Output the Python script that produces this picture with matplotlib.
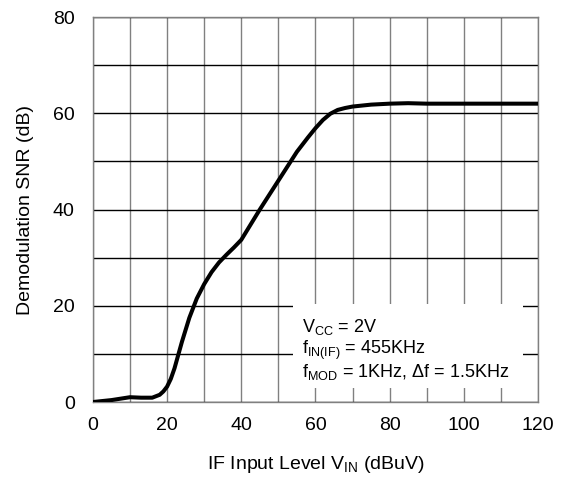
#!/usr/bin/env python3
import matplotlib
matplotlib.use('Agg')
import matplotlib.pyplot as plt
from matplotlib.patches import Rectangle

# SNR curve
vin = [0, 5, 10, 13, 16, 18, 19, 20, 21, 22, 24, 26, 28, 30, 32, 34, 36, 38,
       40, 45, 50, 55, 58, 60, 62, 64, 66, 68, 70, 75, 80, 85, 90, 100, 110, 120]
snr = [0, 0.4, 1.0, 0.9, 0.9, 1.5, 2.2, 3.2, 4.8, 7.0, 12.5, 17.5, 21.5, 24.5,
       27.0, 29.0, 30.6, 32.1, 33.7, 40.0, 46.0, 52.0, 55.0, 56.9, 58.6,
       59.9, 60.7, 61.1, 61.4, 61.8, 62.0, 62.1, 62.0, 62.0, 62.0, 62.0]

x_ticks = [0, 20, 40, 60, 80, 100, 120]
y_ticks = [0, 20, 40, 60, 80]

plt.rcParams['font.family'] = ['Liberation Sans', 'DejaVu Sans']
plt.rcParams['mathtext.fontset'] = 'custom'
plt.rcParams['mathtext.rm'] = 'Liberation Sans'

fig = plt.figure(figsize=(5.63, 4.87), dpi=100)
ax = fig.add_axes([0.165, 0.1745, 0.7906, 0.7905])

ax.set_xlim(0, 120)
ax.set_ylim(0, 80)
ax.set_xticks(x_ticks)
ax.set_yticks(y_ticks)
ax.set_xticks(range(0, 121, 10), minor=True)
ax.set_yticks(range(0, 81, 10), minor=True)
ax.tick_params(which='both', length=0, labelsize=14)
ax.tick_params(axis='x', pad=11)
ax.tick_params(axis='y', pad=13)

# vertical grid gray, horizontal grid black
ax.grid(True, axis='x', which='both', color='#808080', lw=1.0)
ax.grid(True, axis='y', which='both', color='black', lw=1.0)
ax.set_axisbelow(True)
for s in ax.spines.values():
    s.set_color('#808080')
    s.set_linewidth(1.0)

ax.add_patch(Rectangle((54, 3), 62, 17.4, facecolor='white', edgecolor='none', zorder=2))
ax.text(56.5, 15.6, r'V$_{\mathrm{CC}}$ = 2V', fontsize=13, va='center', zorder=3)
ax.text(56.5, 10.8, r'f$_{\mathrm{IN(IF)}}$ = 455KHz', fontsize=13, va='center', zorder=3)
ax.text(56.5, 6.2, r'f$_{\mathrm{MOD}}$ = 1KHz, $\Delta$f = 1.5KHz', fontsize=13, va='center', zorder=3)

ax.plot(vin, snr, color='black', lw=2.9, zorder=4,
        solid_capstyle='round', solid_joinstyle='round')

ax.set_xlabel(r'IF Input Level V$_{\mathrm{IN}}$ (dBuV)', fontsize=14, labelpad=14)
ax.set_ylabel('Demodulation SNR (dB)', fontsize=14, labelpad=14)

fig.savefig('out.png', dpi=100)
